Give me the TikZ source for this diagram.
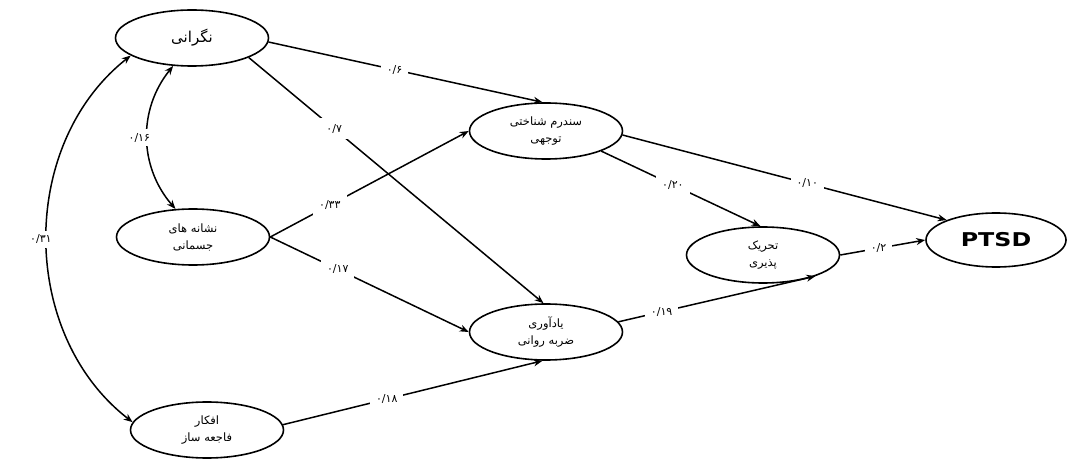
\documentclass[tikz,border=0pt]{standalone}
\usepackage{fontspec}
\usetikzlibrary{shapes.geometric,arrows.meta}
\TeXXeTstate=1
\newfontfamily\fa[Script=Arabic]{DejaVu Sans}
\begin{document}
\begin{tikzpicture}[x=1pt,y=-1pt,
  ell/.style={ellipse, draw, line width=1.6pt, inner sep=0pt, minimum width=153pt, minimum height=56pt, align=center, font=\fa\fontsize{11.5}{17}\selectfont},
  arr/.style={-{Stealth[length=9pt,width=7pt]}, line width=1.5pt},
  dbl/.style={{Stealth[length=9pt,width=7pt]}-{Stealth[length=9pt,width=7pt]}, line width=1.5pt},
  lab/.style={fill=white, font=\fa\fontsize{11}{12}\selectfont, inner sep=6pt},
  clab/.style={fill=white, font=\fa\fontsize{11}{12}\selectfont, inner sep=4pt}]
\useasboundingbox (0,0) rectangle (1071,462);
\fill[white] (0,0) rectangle (1071,462);

\node[ell, font=\fa\fontsize{15}{17}\selectfont] (worry) at (192,38) {\beginR نگرانی\endR};
\node[ell] (som) at (193,237) {\beginR نشانه های\endR\\\beginR جسمانی\endR};
\node[ell] (cat) at (207,430) {\beginR افکار\endR\\\beginR فاجعه ساز\endR};
\node[ell] (cas) at (546,131) {\beginR سندرم شناختی\endR\\\beginR توجهی\endR};
\node[ell] (intr) at (546,332) {\beginR یادآوری\endR\\\beginR ضربه روانی\endR};
\node[ell] (aro) at (763,255) {\beginR تحریک\endR\\\beginR پذیری\endR};
\node[ell, minimum width=140pt, minimum height=54pt, font=\fontsize{19}{21}\selectfont] (ptsd) at (996,240) {\scalebox{1.25}[1]{\fontspec{DejaVu Sans Bold}PTSD}};

\draw[arr] (worry.-3) -- node[lab, pos=0.46] {۰/۶} (cas.97);
\draw[arr] (worry.-19) -- node[lab, pos=0.29] {۰/۷} (intr.95);
\draw[arr] (som.east) -- node[lab, pos=0.3] {۰/۳۳} (cas.west);
\draw[arr] (som.east) -- node[lab, pos=0.34] {۰/۱۷} (intr.west);
\draw[arr] (cat.4) -- node[lab, pos=0.4] {۰/۱۸} (intr.-97);
\draw[arr] (cas.-20) -- node[lab, pos=0.45] {۰/۲۰} (aro.95);
\draw[arr] (cas.-3) -- node[lab, pos=0.57] {۰/۱۰} (ptsd.158);
\draw[arr] (intr.8) -- node[lab, pos=0.22] {۰/۱۹} (aro.-22);
\draw[arr] (aro.east) -- node[lab, pos=0.45] {۰/۲} (ptsd.west);

\draw[dbl] (worry.236) to[bend right=40] node[clab, pos=0.5, xshift=-8pt] {۰/۱۶} (som.122);
\draw[dbl] (worry.196) to[bend right=52] node[clab, pos=0.5, xshift=-6pt] {۰/۳۱} (cat.174);
\end{tikzpicture}
\end{document}
